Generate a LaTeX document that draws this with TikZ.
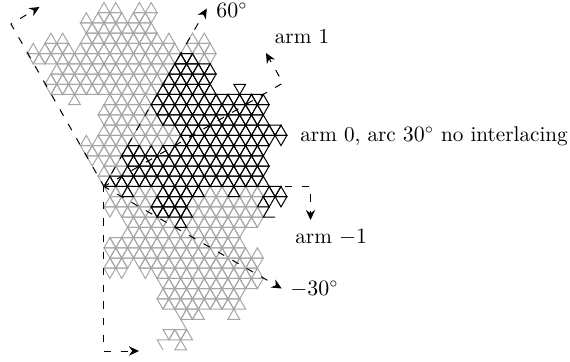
\documentclass[tikz,border=0pt]{standalone}
\usetikzlibrary{arrows.meta}
\tikzset{
  grayedge/.style={draw=black!35, line width=0.5pt},
  blackedge/.style={draw=black, line width=0.5pt},
  armpath/.style={draw, line width=0.5pt, dash pattern=on 3.6pt off 4.7pt, dash phase=0.7pt, -{Stealth[length=5pt,width=4.6pt]}},
  armlabel/.style={anchor=west, inner sep=0pt, font=\fontsize{10.6}{12}\selectfont},
}
\newcommand{\cell}[3][grayedge]{%
  \ifodd\numexpr#2+#3\relax
    \draw[#1] (#2-1,#3) -- (#2+1,#3) -- (#2,#3+1) -- cycle;
  \else
    \draw[#1] (#2,#3) -- (#2-1,#3+1) -- (#2+1,#3+1) -- cycle;
  \fi}
\begin{document}
\begin{tikzpicture}[x=0.5pt,y=-0.5pt]
\useasboundingbox (0,0) rectangle (570,361);
\begin{scope}[shift={(104,2.5)},x=2.95pt,y=-5.11pt]
\foreach \r/\hs in {0/{0,2,6,8},1/{-3,-1,0,1,2,3,5,6,7,8},2/{-3,...,8},
  3/{-9,-7,-3,-2,...,9,11,15,17},4/{-12,-10,-9,-8,-7,-6,-4,-3,...,12,14,15,16,17,18},
  5/{-12,...,18},6/{-8,...,11},7/{-9,...,10},8/{-9,...,9},9/{-5,1,2,...,8},
  10/{0,...,8},11/{0,...,9},12/{0,...,12},13/{-3,-1,0,...,12},14/{-3,...,9},
  15/{-2,0,1,2,3},16/{0,1,2,3},17/{0},18/{1,...,27},19/{1,...,26},
  20/{1,3,4,...,27},21/{4,...,26},22/{4,...,23},23/{1,...,23},24/{1,...,24,26},
  25/{1,2,3,4,6,7,...,26},26/{1,3,7,9,10,...,26},27/{10,...,26},28/{10,...,23},
  29/{10,...,23},30/{13,14,15,16,22},32/{11,12,13,14},33/{13}}
  {\foreach \h in \hs {\cell{\h}{\r}}}
\draw[grayedge] (13,31) -- (14,32);
\draw[grayedge] (11,33) -- (9,33) -- (10,34);
\foreach \r/\hs in {5/{13,14,15},6/{12,...,18},7/{11,...,18},8/{10,...,18,23},
  9/{9,...,27},10/{9,...,27},11/{10,...,27},12/{13,...,30},13/{13,...,28,30},
  14/{4,5,6,8,10,11,...,27},15/{4,...,27},16/{4,...,27},17/{1,...,27},
  18/{4,10,11,...,16,22,28,29,30},19/{9,...,14,27,28,30},20/{9,...,14},21/{13}}
  {\foreach \h in \hs {\cell[blackedge]{\h}{\r}}}
\draw[blackedge] (28,20) -- (27,21) -- (29,21);
\end{scope}
\coordinate (origin) at (104,186.5);
\coordinate (sixty) at (206.8,8.5);
\coordinate (minusthirty) at (281.7,288.5);
\coordinate (cornerone) at (283,83);
\coordinate (tipone) at (266,53);
\coordinate (cornerleft) at (11,24);
\coordinate (tipleft) at (39.5,7);
\coordinate (cornerbottom) at (104,351);
\coordinate (tipbottom) at (139,351);
\coordinate (cornerminus) at (310.5,186.5);
\coordinate (tipminus) at (310.5,220);
\draw[armpath] (origin) -- (sixty);
\draw[armpath] (origin) -- (minusthirty);
\draw[armpath] (origin) -- (cornerone) -- (tipone);
\draw[armpath] (origin) -- (cornerleft) -- (tipleft);
\draw[armpath] (origin) -- (cornerbottom) -- (tipbottom);
\draw[armpath] (origin) -- (cornerminus) -- (tipminus);
\node[armlabel] (labelsixty) at (216,10) {$60^\circ$};
\node[armlabel] (labelone) at (274.5,37) {arm 1};
\node[armlabel] (labelzero) at (300,136) {arm 0, arc $30^\circ$ no interlacing};
\node[armlabel] (labelminus) at (295,237) {arm $-1$};
\node[armlabel] (labelminusthirty) at (290,289) {$-30^\circ$};
\end{tikzpicture}
\end{document}
